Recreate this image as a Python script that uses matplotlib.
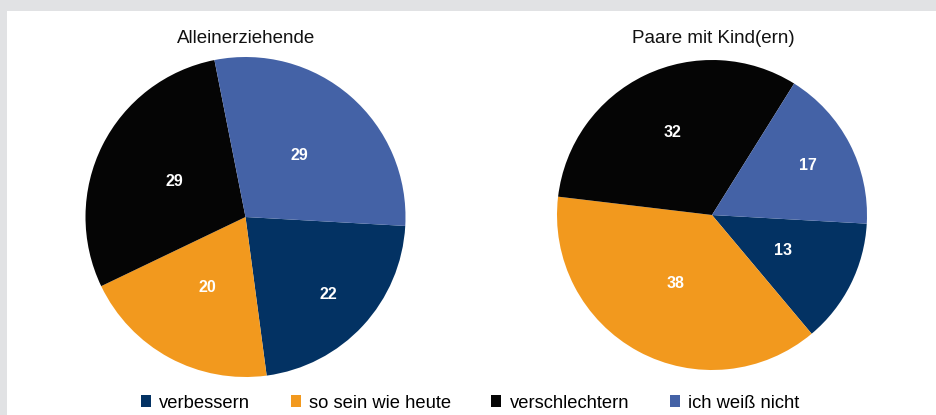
import matplotlib.pyplot as plt
import numpy as np
from matplotlib.patches import Patch, Rectangle

categories = ['verbessern', 'so sein wie heute', 'verschlechtern', 'ich weiß nicht']
titles = ['Alleinerziehende', 'Paare mit Kind(ern)']
alleinerziehende = [22, 20, 29, 29]
paare_mit_kind = [13, 38, 32, 17]

colors = ['#033263', '#f2991e', '#050505', '#4462a6']
# Abstand der Zahlen vom Mittelpunkt (wie im Original, je Segment)
label_dist = [[0.71, 0.50, 0.50, 0.51], [0.51, 0.50, 0.59, 0.70]]

plt.rcParams['font.family'] = ['Liberation Sans', 'DejaVu Sans']

fig = plt.figure(figsize=(9.36, 4.15), dpi=100, facecolor='#e1e2e4')
W, H = 936, 415
fig.patches.append(Rectangle((7 / W, 0), 1 - 7 / W, 1 - 11 / H, transform=fig.transFigure,
                             facecolor='white', edgecolor='none', zorder=-5))

# Achsen: (Mitte x, Mitte y von oben, Radius) in Pixeln
boxes = [(245.5, 217, 160), (712, 215, 155)]
title_x = [246, 713]

for i, values in enumerate([alleinerziehende, paare_mit_kind]):
    cx, cy, r = boxes[i]
    ax = fig.add_axes([(cx - r) / W, (H - cy - r) / H, 2 * r / W, 2 * r / H])
    wedges, _ = ax.pie(values, colors=colors, startangle=-3.2, counterclock=False,
                       radius=1, wedgeprops=dict(linewidth=0))
    for k, w in enumerate(wedges):
        ang = np.deg2rad((w.theta1 + w.theta2) / 2)
        d = label_dist[i][k]
        ax.text(d * np.cos(ang), d * np.sin(ang), str(values[k]), color='white',
                fontsize=11.5, fontweight='bold', ha='center', va='center')
    ax.set_xlim(-1, 1)
    ax.set_ylim(-1, 1)
    ax.set_aspect('equal')
    ax.axis('off')
    fig.text(title_x[i] / W, 1 - 43 / H, titles[i], ha='center', va='baseline',
             fontsize=13.5, color='#111111')

handles = [Patch(facecolor=c, edgecolor='none') for c in colors]
fig.legend(handles, categories, loc='center', bbox_to_anchor=(470 / W, 1 - 403 / H),
           ncol=4, frameon=False, fontsize=13.2, handlelength=0.55, handleheight=0.55,
           handletextpad=0.45, columnspacing=2.2, borderpad=0)

fig.savefig('out.png', dpi=100, facecolor=fig.get_facecolor())
